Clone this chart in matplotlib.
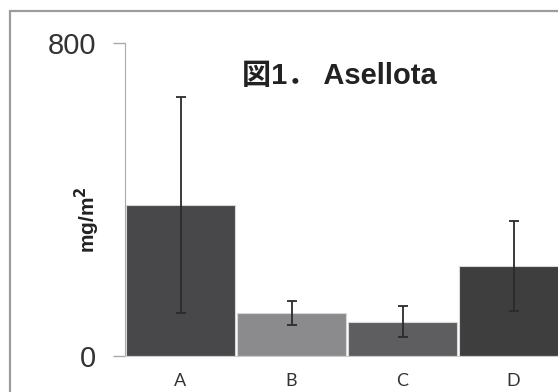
import matplotlib
matplotlib.use('Agg')
import matplotlib.pyplot as plt
from matplotlib.patches import Rectangle

plt.rcParams['font.family'] = ['Liberation Sans', 'Noto Sans CJK JP', 'DejaVu Sans']

sites = ['A', 'B', 'C', 'D']
values = [386, 110, 88, 230]
errors = [275, 31, 39, 115]
colors = ['#48484a', '#8b8b8d', '#5e5e60', '#3e3e3e']

fig = plt.figure(figsize=(5.58, 3.92), dpi=100)
W, H = 558.0, 392.0

# gray frame around the chart (cropped on the right and bottom)
fig.patches.append(Rectangle((9.5 / W, -0.1), 1.2, 1 - 10.5 / H + 0.1,
                             transform=fig.transFigure, fill=False,
                             edgecolor='#9c9c9c', linewidth=1.6))

ax = fig.add_axes([125 / W, 36 / H, 444 / W, 313 / H])
x = range(len(sites))
ax.bar(x, values, width=0.98, color=colors, edgecolor='#d8d8d8', linewidth=0.8)
ax.errorbar(x, values, yerr=errors, fmt='none', ecolor='#2b2b2b',
            elinewidth=1.3, capsize=3.5, capthick=1.3)

ax.set_xlim(-0.5, 3.5)
ax.set_ylim(0, 800)
ax.set_yticks([0, 800])
ax.set_yticklabels(['0', '800'], fontsize=21, color='#333333')
ax.tick_params(axis='y', length=9, width=1, color='#aaaaaa', pad=12)
ax.set_xticks(list(x))
ax.set_xticklabels(sites, fontsize=13, color='#333333', family=['Lato', 'DejaVu Sans'])
ax.tick_params(axis='x', length=0, pad=12)

for s in ['top', 'right']:
    ax.spines[s].set_visible(False)
ax.spines['left'].set_color('#aaaaaa')
ax.spines['bottom'].set_color('#cccccc')

fig.text(87 / W, 1 - 220 / H, r'mg/m$^\mathbf{2}$', rotation=90, ha='center', va='center',
         fontsize=15, fontweight='bold', color='#222222')
fig.text(339 / W, 1 - 76 / H, '図1． Asellota', ha='center', va='center',
         fontsize=21, fontweight='bold', color='#222222')

fig.savefig('out.png', dpi=100)
